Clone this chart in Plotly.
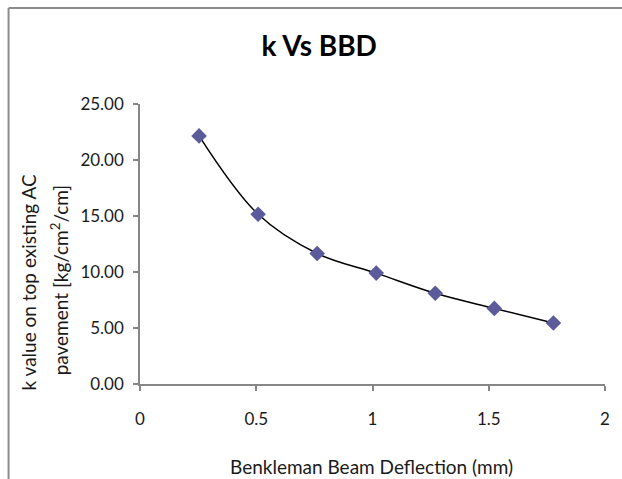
import plotly.graph_objects as go

# Data
deflection_mm = [0.254, 0.508, 0.762, 1.016, 1.270, 1.524, 1.778]
k_value = [22.15, 15.15, 11.65, 9.90, 8.10, 6.75, 5.45]

x_ticks = [0, 0.5, 1, 1.5, 2]
x_tick_labels = ["0", "0.5", "1", "1.5", "2"]
y_ticks = [0, 5, 10, 15, 20, 25]
y_tick_labels = ["0.00", "5.00", "10.00", "15.00", "20.00", "25.00"]

title_text = "k Vs BBD"
x_title = "Benkleman Beam Deflection (mm)"
y_title_line1 = "k value on top existing AC"
y_title_line2 = "pavement [kg/cm<sup>2</sup>/cm]"

FONT = "Lato, 'Open Sans', sans-serif"
AXIS_COLOR = "#868686"
TEXT_COLOR = "#1a1a1a"

W, H = 622, 479
L, R, T, B = 140, 15, 104, 95
pw, ph = W - L - R, H - T - B

def px(xp):
    return (xp - L) / pw

def py(yp):
    return (H - B - yp) / ph

fig = go.Figure()
fig.add_trace(go.Scatter(
    x=deflection_mm, y=k_value,
    mode="lines+markers",
    line=dict(color="black", width=1.5, shape="spline", smoothing=1.0),
    marker=dict(symbol="diamond", size=12, color="#5b5b9b",
                line=dict(width=0)),
    showlegend=False, hoverinfo="x+y",
))

axis_common = dict(
    showgrid=False, zeroline=False, showline=True,
    linecolor=AXIS_COLOR, linewidth=1.5, ticks="outside",
    ticklen=5, tickcolor=AXIS_COLOR, tickwidth=1.5,
    tickfont=dict(family=FONT, size=17, color=TEXT_COLOR),
    fixedrange=True,
)

fig.update_layout(
    width=W, height=H,
    margin=dict(l=L, r=R, t=T, b=B),
    paper_bgcolor="white", plot_bgcolor="white",
    font=dict(family=FONT, size=17, color=TEXT_COLOR),
    title=dict(text="<b>" + title_text + "</b>", x=px(320), xanchor="center",
               xref="paper", y=1 - 46 / H, yanchor="middle",
               font=dict(family=FONT, size=28, color="black")),
    xaxis=dict(range=[0, 2], tickvals=x_ticks, ticktext=x_tick_labels,
               ticklabelstandoff=14, **axis_common),
    yaxis=dict(range=[0, 25], tickvals=y_ticks, ticktext=y_tick_labels,
               ticklabelstandoff=6, **axis_common),
    annotations=[
        dict(text=x_title, xref="paper", yref="paper", x=px(372), y=py(466),
             xanchor="center", yanchor="middle", showarrow=False,
             font=dict(family=FONT, size=19, color=TEXT_COLOR)),
        dict(text=y_title_line1, xref="paper", yref="paper", x=px(28), y=py(282),
             xanchor="center", yanchor="middle", showarrow=False,
             textangle=-90,
             font=dict(family=FONT, size=19, color=TEXT_COLOR)),
        dict(text=y_title_line2, xref="paper", yref="paper", x=px(59), y=py(280),
             xanchor="center", yanchor="middle", showarrow=False,
             textangle=-90,
             font=dict(family=FONT, size=19, color=TEXT_COLOR)),
    ],
    shapes=[
        dict(type="line", xref="paper", yref="paper",
             x0=px(8), y0=py(8), x1=px(640), y1=py(8),
             line=dict(color="#8c8c8c", width=2)),
        dict(type="line", xref="paper", yref="paper",
             x0=px(8), y0=py(8), x1=px(8), y1=py(500),
             line=dict(color="#8c8c8c", width=2)),
    ],
)

fig.write_html("out.html",
               config={"displayModeBar": False},
               post_script="document.body.style.margin='0';document.body.style.overflow='hidden';")
